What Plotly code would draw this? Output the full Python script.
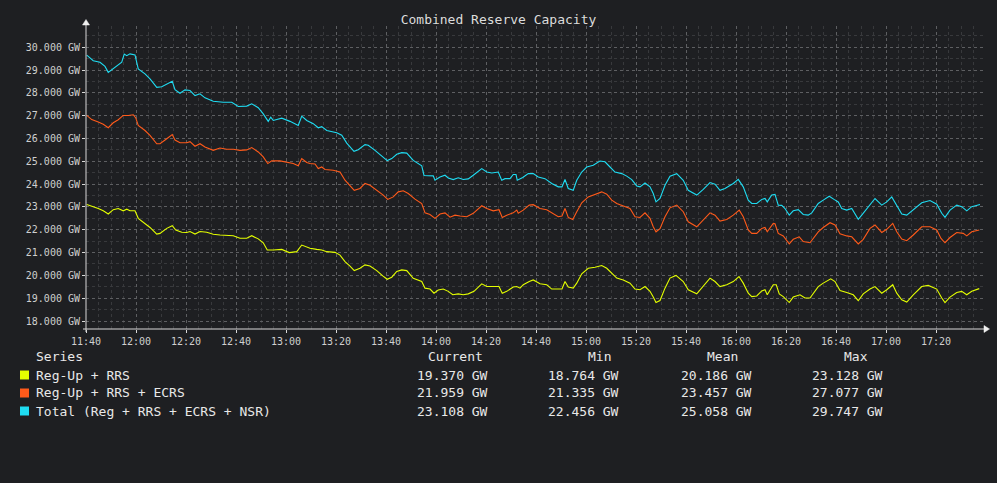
import pandas as pd
import plotly.graph_objects as go

# ---------------- data (minutes after 11:40, values in GW) ----------------
title_text = "Combined Reserve Capacity"
series_names = ["Reg-Up + RRS", "Reg-Up + RRS + ECRS", "Total (Reg + RRS + ECRS + NSR)"]
series_colors = ["#e4ff00", "#ff5a1a", "#1fdcf2"]
stat_current = ["19.370 GW", "21.959 GW", "23.108 GW"]
stat_min = ["18.764 GW", "21.335 GW", "22.456 GW"]
stat_mean = ["20.186 GW", "23.457 GW", "25.058 GW"]
stat_max = ["23.128 GW", "27.077 GW", "29.747 GW"]

yellow_min = [0.3, 2.3, 4.9, 6.9, 8.9, 10.9, 12.9, 14.9, 16.3, 17.6, 19.6, 20.9, 23.6, 25.6, 28.3, 29.6,
              32.3, 34.5, 35.9, 38.3, 40.3, 41.6, 43.6, 45.6, 48.3, 50.9, 53.6, 56.3, 58.9, 61.6, 64.3,
              66.3, 68.9, 70.9, 72.5, 74.9, 78.3, 81.3, 84.3, 86.3, 88.3, 89.6, 92.3, 94.3, 96.3, 99.6,
              101.6, 103.6, 105.6, 107.3, 109.6, 111.6, 113.6, 116.3, 118.7, 120.5, 122.3, 124.3, 126.3,
              128.3, 130.9, 134.3, 135.6, 137.6, 139.2, 140.9, 142.9, 144.9, 146.7, 148.9, 150.9, 152.9,
              155.2, 158.3, 160.3, 162.9, 165.2, 166.5, 168.3, 170.9, 172.3, 173.6, 174.9, 177.3, 178.9,
              181.6, 184.3, 186.3, 188.9, 190.4, 191.6, 192.9, 194.9, 196.3, 198.3, 200.9, 203.6, 206.3,
              208.3, 210.3, 212.3, 214.9, 217.6, 219.6, 221.6, 223.6, 225.6, 226.9, 228.0, 229.6, 231.6,
              233.6, 236.0, 238.9, 240.9, 244.3, 246.9, 249.6, 251.6, 253.6, 256.3, 258.9, 261.2, 262.9,
              264.9, 266.3, 268.3, 270.3, 271.6, 272.5, 274.9, 276.1, 277.3, 278.9, 281.3, 282.9, 285.6,
              287.6, 289.6, 292.9, 294.9, 297.9, 299.6, 301.6, 304.3, 306.9, 308.9, 310.9, 313.6, 315.6,
              318.3, 320.3, 322.7, 324.3, 326.3, 328.3, 330.9, 334.3, 336.9, 340.3, 342.3, 343.6, 345.6,
              348.3, 350.3, 352.3, 354.3, 357.3]
yellow_val = [23.11, 23.04, 22.93, 22.83, 22.69, 22.88, 22.93, 22.83, 22.90, 22.83, 22.83, 22.50, 22.28, 22.10,
              21.81, 21.84, 22.06, 22.18, 21.99, 21.89, 21.88, 21.92, 21.81, 21.92, 21.89, 21.80, 21.77,
              21.74, 21.74, 21.63, 21.63, 21.74, 21.60, 21.43, 21.11, 21.11, 21.14, 21.00, 21.04, 21.33,
              21.26, 21.19, 21.14, 21.11, 21.04, 21.01, 20.89, 20.60, 20.41, 20.21, 20.31, 20.46, 20.41,
              20.21, 19.98, 19.83, 19.92, 20.17, 20.24, 20.21, 19.87, 19.73, 19.44, 19.40, 19.22, 19.36,
              19.40, 19.30, 19.15, 19.19, 19.15, 19.19, 19.30, 19.63, 19.51, 19.51, 19.51, 19.22, 19.30,
              19.49, 19.51, 19.44, 19.59, 19.73, 19.80, 19.63, 19.59, 19.40, 19.40, 19.40, 19.73, 19.49,
              19.44, 19.66, 20.07, 20.31, 20.36, 20.43, 20.31, 20.10, 19.88, 19.80, 19.66, 19.40, 19.37,
              19.51, 19.30, 19.05, 18.81, 18.90, 19.44, 19.88, 20.00, 19.73, 19.37, 19.19, 19.51, 19.88,
              19.73, 19.51, 19.59, 19.73, 19.95, 19.66, 19.22, 19.07, 19.10, 19.32, 19.37, 19.15, 19.59,
              19.59, 19.19, 19.07, 18.81, 19.05, 19.15, 19.01, 19.01, 19.51, 19.66, 19.85, 19.73, 19.34,
              19.25, 19.15, 18.89, 19.19, 19.40, 19.51, 19.22, 19.37, 19.59, 19.22, 18.93, 18.83, 19.15,
              19.51, 19.56, 19.40, 19.01, 18.81, 19.05, 19.25, 19.30, 19.15, 19.30, 19.42]

orange_min = [0.3, 2.3, 4.9, 6.9, 8.9, 10.9, 12.9, 14.9, 16.9, 18.9, 19.9, 20.9, 23.6, 25.6, 28.3, 29.6,
              32.3, 34.5, 35.6, 37.6, 40.3, 41.6, 43.6, 45.6, 47.6, 50.9, 53.6, 56.3, 58.9, 61.6, 64.3,
              66.3, 68.9, 70.9, 72.7, 74.3, 77.6, 80.3, 82.9, 84.9, 86.3, 88.3, 89.6, 91.6, 92.9, 94.3,
              95.6, 98.9, 101.6, 103.6, 105.6, 107.3, 109.6, 111.6, 113.6, 116.3, 118.9, 120.7, 122.9,
              124.9, 126.9, 128.9, 131.6, 134.3, 135.6, 137.6, 139.6, 141.6, 143.6, 145.6, 147.6, 149.6,
              152.3, 154.9, 158.3, 160.3, 162.9, 165.2, 166.5, 168.3, 170.9, 172.3, 172.9, 174.9, 177.3,
              178.9, 181.6, 184.3, 186.9, 188.9, 190.4, 191.6, 192.9, 194.7, 196.3, 198.3, 200.9, 203.6,
              206.3, 208.3, 210.3, 212.3, 214.9, 217.6, 219.6, 221.6, 223.6, 225.6, 226.9, 228.0, 229.6,
              231.6, 233.6, 236.3, 238.9, 240.9, 244.3, 246.9, 249.6, 251.6, 253.6, 256.3, 258.9, 261.3,
              262.9, 264.9, 266.3, 268.3, 270.3, 271.6, 272.5, 274.9, 275.6, 276.9, 278.9, 281.3, 282.9,
              285.3, 286.9, 289.6, 292.9, 294.9, 297.6, 299.6, 301.6, 304.3, 306.3, 308.9, 310.9, 313.6,
              315.6, 318.3, 320.3, 322.7, 324.3, 326.3, 328.3, 330.9, 334.3, 337.6, 340.3, 342.0, 343.6,
              345.6, 348.3, 350.9, 352.3, 354.3, 357.3]
orange_val = [27.01, 26.83, 26.72, 26.62, 26.47, 26.69, 26.82, 27.01, 27.01, 27.04, 26.90, 26.57, 26.35, 26.14,
              25.77, 25.77, 25.99, 26.17, 25.93, 25.81, 25.81, 25.86, 25.66, 25.77, 25.63, 25.48, 25.58,
              25.53, 25.53, 25.48, 25.50, 25.60, 25.41, 25.19, 24.90, 25.02, 25.02, 24.95, 24.90, 24.80,
              25.12, 24.95, 24.90, 24.88, 24.68, 24.75, 24.64, 24.61, 24.53, 24.17, 23.95, 23.73, 23.81,
              24.03, 23.95, 23.73, 23.52, 23.33, 23.44, 23.66, 23.71, 23.59, 23.34, 23.15, 22.74, 22.67,
              22.50, 22.69, 22.74, 22.55, 22.64, 22.60, 22.57, 22.72, 23.05, 22.93, 22.83, 22.88, 22.54,
              22.64, 22.74, 22.86, 22.72, 22.86, 23.08, 23.10, 22.93, 22.88, 22.72, 22.57, 22.60, 22.93,
              22.54, 22.45, 22.79, 23.18, 23.44, 23.56, 23.66, 23.56, 23.30, 23.15, 23.05, 22.93, 22.57,
              22.54, 22.74, 22.50, 22.13, 21.91, 22.05, 22.57, 22.96, 23.08, 22.79, 22.35, 22.13, 22.42,
              22.74, 22.64, 22.38, 22.45, 22.64, 22.86, 22.57, 21.99, 21.84, 21.84, 22.06, 22.10, 21.91,
              22.28, 22.26, 21.84, 21.73, 21.38, 21.58, 21.69, 21.48, 21.43, 21.91, 22.10, 22.31, 22.21,
              21.82, 21.73, 21.69, 21.38, 21.58, 22.06, 22.21, 21.88, 22.02, 22.28, 21.91, 21.59, 21.52,
              21.77, 22.13, 22.13, 21.99, 21.62, 21.43, 21.66, 21.88, 21.84, 21.73, 21.91, 21.99]

cyan_min = [0.3, 2.9, 5.6, 7.6, 8.9, 10.9, 14.3, 15.3, 16.3, 17.6, 19.6, 20.9, 23.6, 25.6, 28.3, 30.3,
            32.9, 34.5, 35.6, 37.6, 39.6, 41.6, 43.6, 45.6, 47.6, 50.9, 54.9, 58.3, 60.9, 64.3, 66.3,
            68.9, 70.9, 72.9, 73.9, 74.9, 78.3, 81.6, 84.9, 86.3, 88.3, 90.9, 92.9, 94.3, 96.3, 100.3,
            102.3, 104.3, 107.2, 108.9, 111.6, 112.9, 115.6, 118.3, 120.5, 122.3, 124.3, 126.3, 128.3,
            130.9, 134.3, 135.2, 136.9, 138.9, 139.6, 141.6, 143.6, 144.9, 146.9, 148.9, 150.9, 152.9,
            154.9, 158.3, 160.3, 162.3, 164.9, 166.3, 167.6, 169.6, 170.9, 172.0, 172.5, 174.7, 176.9,
            178.9, 180.9, 183.6, 186.3, 188.9, 190.4, 191.6, 192.9, 194.9, 196.3, 198.3, 200.3, 202.9,
            205.6, 207.6, 209.6, 211.6, 214.3, 216.3, 218.3, 220.3, 221.6, 223.6, 225.6, 226.9, 228.0,
            229.6, 231.6, 233.6, 236.3, 238.9, 240.9, 244.3, 246.9, 249.6, 251.6, 253.6, 255.6, 258.9,
            260.9, 262.9, 264.9, 266.3, 268.3, 270.3, 271.6, 272.5, 274.3, 275.6, 276.9, 278.3, 279.6,
            281.3, 282.9, 284.9, 286.9, 288.9, 290.3, 292.9, 294.9, 297.3, 299.2, 300.9, 302.3, 304.3,
            306.3, 308.9, 310.3, 312.9, 315.6, 318.3, 320.3, 322.3, 324.3, 326.3, 328.3, 330.9, 334.3,
            337.6, 340.3, 342.3, 343.6, 345.6, 348.3, 350.3, 352.3, 354.3, 356.3, 357.6]
cyan_val = [29.65, 29.41, 29.34, 29.16, 28.90, 29.07, 29.34, 29.70, 29.63, 29.71, 29.66, 29.05, 28.83, 28.61,
            28.24, 28.27, 28.44, 28.51, 28.14, 27.98, 28.13, 28.10, 27.88, 27.96, 27.78, 27.63, 27.59,
            27.59, 27.40, 27.42, 27.52, 27.35, 27.08, 26.75, 26.93, 26.79, 26.89, 26.75, 26.57, 26.98,
            26.79, 26.65, 26.47, 26.52, 26.35, 26.25, 26.14, 25.80, 25.44, 25.51, 25.73, 25.70, 25.48,
            25.22, 25.03, 25.12, 25.31, 25.38, 25.36, 25.04, 24.80, 24.38, 24.36, 24.36, 24.17, 24.31,
            24.39, 24.27, 24.20, 24.28, 24.20, 24.23, 24.39, 24.68, 24.53, 24.49, 24.53, 24.17, 24.24,
            24.24, 24.42, 24.42, 24.17, 24.29, 24.46, 24.46, 24.31, 24.24, 24.03, 23.88, 23.88, 24.20,
            23.81, 23.73, 24.17, 24.53, 24.75, 24.83, 25.01, 24.98, 24.75, 24.53, 24.46, 24.35, 24.20,
            23.92, 23.88, 24.05, 23.88, 23.59, 23.22, 23.37, 23.95, 24.35, 24.46, 24.17, 23.73, 23.52,
            23.77, 24.07, 24.00, 23.73, 23.81, 24.03, 24.21, 23.88, 23.30, 23.15, 23.15, 23.33, 23.37,
            23.22, 23.52, 23.55, 23.08, 23.07, 22.93, 22.64, 22.83, 22.88, 22.67, 22.64, 22.74, 23.15,
            23.30, 23.47, 23.33, 23.22, 22.93, 22.86, 22.93, 22.46, 22.64, 23.00, 23.37, 23.08, 23.22,
            23.44, 23.08, 22.69, 22.64, 22.86, 23.18, 23.28, 23.12, 22.72, 22.54, 22.86, 23.08, 23.01,
            22.83, 23.01, 23.08, 23.11]

x_start = "2024-01-01 11:40:00"
x_span_min = 358.8
y_range = [17.65, 30.93]

# ---------------- styling ----------------
BG = "#1e1f22"
TXT = "#e8e8e8"
TICK_TXT = "#cfcfcf"
MAJOR_GRID = "#5e5f62"
MINOR_GRID = "#38393c"
AXIS = "#d8d8d8"
MONO = "DejaVu Sans Mono"

W, H = 997, 483
L, R, T, B = 86, 14, 26, 154
PW, PH = W - L - R, H - T - B

def px(x):
    return (x - L) / PW

def py(y):
    return (H - B - y) / PH

base = pd.Timestamp(x_start)
def times(mins):
    return base + pd.to_timedelta(mins, unit="min")

fig = go.Figure()
for mins, vals, name, col in [
    (yellow_min, yellow_val, series_names[0], series_colors[0]),
    (orange_min, orange_val, series_names[1], series_colors[1]),
    (cyan_min, cyan_val, series_names[2], series_colors[2]),
]:
    fig.add_trace(go.Scatter(x=times(mins), y=vals, mode="lines", name=name,
                             line=dict(color=col, width=1.1), hoverinfo="skip"))

fig.update_layout(
    width=W, height=H,
    margin=dict(l=L, r=R, t=T, b=B),
    paper_bgcolor=BG, plot_bgcolor=BG,
    showlegend=False,
    font=dict(family=MONO, color=TXT),
    title=dict(text=title_text, x=0.5, xanchor="center", y=1 - 19 / H, yanchor="middle",
               font=dict(family=MONO, size=13, color="#dcdcdc")),
)

fig.update_xaxes(
    type="date",
    range=[base, base + pd.Timedelta(minutes=x_span_min)],
    dtick=20 * 60 * 1000, tick0="2024-01-01 00:00:00", tickformat="%H:%M",
    showgrid=True, gridcolor=MAJOR_GRID, griddash="dot", gridwidth=1,
    ticks="outside", ticklen=3, tickcolor=AXIS,
    tickfont=dict(family=MONO, size=10, color=TICK_TXT),
    minor=dict(dtick=5 * 60 * 1000, showgrid=True, gridcolor=MINOR_GRID, griddash="dot", ticks=""),
    showline=False, zeroline=False,
)
fig.update_yaxes(
    range=y_range, dtick=1, tick0=0, tickformat=".3f", ticksuffix=" GW",
    showgrid=True, gridcolor=MAJOR_GRID, griddash="dot", gridwidth=1,
    ticks="outside", ticklen=3, tickcolor=AXIS,
    tickfont=dict(family=MONO, size=10, color=TICK_TXT),
    minor=dict(dtick=0.5, showgrid=True, gridcolor=MINOR_GRID, griddash="dot", ticks=""),
    showline=False, zeroline=False,
)

# axes with arrows
shapes = [
    dict(type="line", xref="paper", yref="paper", x0=px(83), x1=px(985), y0=py(329), y1=py(329),
         line=dict(color=AXIS, width=1)),
    dict(type="line", xref="paper", yref="paper", x0=px(86), x1=px(86), y0=py(332), y1=py(24),
         line=dict(color=AXIS, width=1)),
    dict(type="path", xref="paper", yref="paper",
         path=f"M {px(984)} {py(325.5)} L {px(989.5)} {py(329)} L {px(984)} {py(332.5)} Z",
         fillcolor="#f0f0f0", line=dict(color="#f0f0f0", width=0.5)),
    dict(type="path", xref="paper", yref="paper",
         path=f"M {px(82.5)} {py(25)} L {px(86)} {py(19.5)} L {px(89.5)} {py(25)} Z",
         fillcolor="#f0f0f0", line=dict(color="#f0f0f0", width=0.5)),
]

# legend table
ann = []
def text_at(x, y, s, size=13, color=TXT):
    ann.append(dict(xref="paper", yref="paper", x=px(x - 2), y=py(y), text=s, showarrow=False,
                    xanchor="left", yanchor="middle", font=dict(family=MONO, size=size, color=color)))

header_y = 356
row_y = [375, 393, 411]
text_at(36, header_y, "Series")
text_at(428, header_y, "Current")
text_at(588, header_y, "Min")
text_at(707, header_y, "Mean")
text_at(844, header_y, "Max")
for i in range(3):
    y = row_y[i]
    shapes.append(dict(type="rect", xref="paper", yref="paper",
                       x0=px(20), x1=px(29), y0=py(y - 4.5), y1=py(y + 4.5),
                       fillcolor=series_colors[i], line=dict(width=0)))
    text_at(36, y, series_names[i])
    text_at(416.5, y, stat_current[i])
    text_at(548, y, stat_min[i])
    text_at(680.5, y, stat_mean[i])
    text_at(812, y, stat_max[i])

fig.update_layout(shapes=shapes, annotations=ann)
fig.write_html(
    "out.html",
    config={"displayModeBar": False},
    post_script="document.body.style.margin='0';document.body.style.background='#1e1f22';"
                "document.documentElement.style.overflow='hidden';",
)
